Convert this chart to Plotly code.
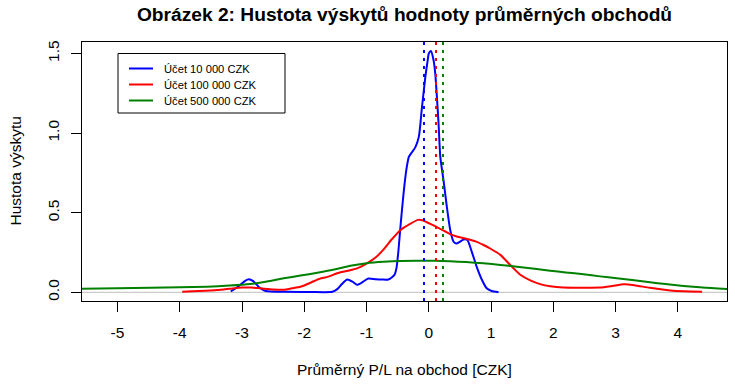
import plotly.graph_objects as go

# ---------------- data ----------------
series_names = ["Účet 10 000 CZK", "Účet 100 000 CZK", "Účet 500 000 CZK"]

x_10k = [-3.18, -3.05, -2.95, -2.89, -2.82, -2.72, -2.62, -2.3, -1.9, -1.55, -1.47, -1.40, -1.31,
         -1.22, -1.15, -1.06, -0.97, -0.85, -0.75, -0.65, -0.59, -0.55, -0.52, -0.49, -0.46, -0.43,
         -0.40, -0.36, -0.32, -0.27, -0.217, -0.16, -0.11, -0.056, -0.02, 0.0, 0.035, 0.077, 0.104,
         0.13, 0.157, 0.185, 0.238, 0.29, 0.345, 0.40, 0.45, 0.51, 0.56, 0.62, 0.69, 0.77, 0.855,
         0.93, 1.01, 1.12]
y_10k = [0.005, 0.04, 0.072, 0.082, 0.07, 0.03, 0.008, 0.003, 0.002, 0.003, 0.02, 0.05, 0.08,
         0.065, 0.047, 0.065, 0.087, 0.082, 0.08, 0.08, 0.095, 0.11, 0.15, 0.25, 0.39, 0.52,
         0.64, 0.77, 0.85, 0.88, 0.91, 0.976, 1.16, 1.35, 1.45, 1.50, 1.516, 1.457, 1.374,
         1.23, 1.06, 0.85, 0.70, 0.537, 0.39, 0.317, 0.307, 0.32, 0.332, 0.328, 0.255, 0.16, 0.077,
         0.025, 0.008, 0.001]

x_100k = [-3.96, -3.7, -3.4, -3.2, -3.0, -2.85, -2.70, -2.5, -2.33, -2.2, -2.06, -1.9, -1.79,
          -1.6, -1.47, -1.3, -1.15, -1.0, -0.85, -0.725, -0.6, -0.457, -0.3, -0.17, -0.1, -0.03,
          0.05, 0.13, 0.25, 0.345, 0.45, 0.61, 0.75, 0.88, 1.0, 1.15, 1.3, 1.47, 1.63, 1.8, 1.95,
          2.16, 2.5, 2.75, 2.95, 3.13, 3.3, 3.55, 3.88, 4.1, 4.39]
y_100k = [0.004, 0.008, 0.014, 0.022, 0.03, 0.03, 0.025, 0.018, 0.016, 0.025, 0.035, 0.06, 0.08,
          0.10, 0.12, 0.135, 0.15, 0.18, 0.22, 0.27, 0.33, 0.39, 0.43, 0.455, 0.452, 0.44,
          0.425, 0.41, 0.385, 0.365, 0.35, 0.335, 0.32, 0.297, 0.272, 0.235, 0.175, 0.11, 0.075,
          0.05, 0.038, 0.03, 0.029, 0.03, 0.04, 0.05, 0.045, 0.028, 0.012, 0.007, 0.004]

x_500k = [-5.6, -5.0, -4.47, -4.0, -3.56, -3.2, -2.87, -2.6, -2.33, -2.06, -1.79, -1.5, -1.26,
          -1.0, -0.725, -0.45, -0.19, 0.1, 0.345, 0.6, 0.88, 1.15, 1.416, 1.7, 1.95, 2.2, 2.485,
          2.75, 3.02, 3.3, 3.555, 3.8, 4.09, 4.4, 4.8]
y_500k = [0.022, 0.025, 0.029, 0.032, 0.035, 0.042, 0.052, 0.068, 0.088, 0.105, 0.123, 0.145,
          0.167, 0.183, 0.192, 0.197, 0.198, 0.198, 0.195, 0.19, 0.182, 0.172, 0.16, 0.148, 0.136,
          0.125, 0.113, 0.1, 0.088, 0.075, 0.063, 0.052, 0.04, 0.03, 0.021]

means = [-0.077, 0.116, 0.228]

x_ticks = [-5, -4, -3, -2, -1, 0, 1, 2, 3, 4]
x_tick_labels = ["-5", "-4", "-3", "-2", "-1", "0", "1", "2", "3", "4"]
y_ticks = [0.0, 0.5, 1.0, 1.5]
y_tick_labels = ["0.0", "0.5", "1.0", "1.5"]

title_text = "Obrázek 2: Hustota výskytů hodnoty průměrných obchodů"
x_title = "Průměrný P/L na obchod [CZK]"
y_title = "Hustota výskytu"

# ---------------- style ----------------
colors = ["#0000ff", "#ff0000", "#008000"]
W, H = 735, 388
ML, MR, MT, MB = 82, 8, 42, 87
PW, PH = W - ML - MR, H - MT - MB
FONT = "Liberation Sans, Arial, sans-serif"


def px_x(px):
    return (px - ML) / PW


def px_y(py):
    return (H - MB - py) / PH


fig = go.Figure()

xs = [x_10k, x_100k, x_500k]
ys = [y_10k, y_100k, y_500k]
for xv, yv, name, col in zip(xs, ys, series_names, colors):
    fig.add_trace(go.Scatter(x=xv, y=yv, mode="lines", name=name,
                             line=dict(color=col, width=2, shape="spline", smoothing=0.6),
                             showlegend=False, hoverinfo="skip"))

fig.update_layout(
    width=W, height=H,
    margin=dict(l=ML, r=MR, t=MT, b=MB, autoexpand=False),
    paper_bgcolor="white", plot_bgcolor="white",
    title=dict(text="<b>" + title_text + "</b>", x=0.5, xref="paper",
               y=(H - 14) / H, yref="container", xanchor="center", yanchor="middle",
               font=dict(family=FONT, size=19.2, color="black")),
    xaxis=dict(range=[-5.57, 4.79], tickmode="array", tickvals=x_ticks, ticktext=x_tick_labels,
               ticks="outside", ticklen=10, tickwidth=1, tickcolor="black",
               showline=True, linecolor="black", linewidth=1, mirror=True,
               showgrid=False, zeroline=False, ticklabelstandoff=7,
               tickfont=dict(family=FONT, size=15.5, color="black")),
    yaxis=dict(range=[-0.0546, 1.572], tickmode="array", tickvals=y_ticks, ticktext=y_tick_labels,
               ticks="outside", ticklen=10, tickwidth=1, tickcolor="black", tickangle=-90,
               showline=True, linecolor="black", linewidth=1, mirror=True,
               showgrid=False, zeroline=False, ticklabelstandoff=6,
               tickfont=dict(family=FONT, size=15.5, color="black")),
    showlegend=False,
)

# zero line
fig.add_hline(y=0, line=dict(color="#bebebe", width=1), layer="below")

# mean lines
for m, col in zip(means, colors):
    fig.add_vline(x=m, line=dict(color=col, width=2, dash="3px,5px"))

# manual legend (R style)
fig.add_shape(type="rect", xref="paper", yref="paper",
              x0=px_x(118), x1=px_x(285), y0=px_y(113), y1=px_y(53.5),
              line=dict(color="black", width=1), fillcolor="white", layer="above")
row_y = [68.5, 84.5, 100.5]
for name, col, ry in zip(series_names, colors, row_y):
    fig.add_shape(type="line", xref="paper", yref="paper",
                  x0=px_x(129), x1=px_x(153), y0=px_y(ry), y1=px_y(ry),
                  line=dict(color=col, width=2))
    fig.add_annotation(text=name, xref="paper", yref="paper", x=px_x(162), y=px_y(ry),
                       xanchor="left", yanchor="middle", showarrow=False,
                       font=dict(family=FONT, size=11.2, color="black"))

# axis titles
fig.add_annotation(text=x_title, xref="paper", yref="paper", x=0.5, y=0,
                   xanchor="center", yanchor="middle", yshift=-(369 - 301),
                   showarrow=False, font=dict(family=FONT, size=15.5, color="black"))
fig.add_annotation(text=y_title, xref="paper", yref="paper", x=0, y=0.5,
                   xanchor="center", yanchor="middle", xshift=-(ML - 15), textangle=-90,
                   showarrow=False, font=dict(family=FONT, size=15.5, color="black"))

fig.write_html("out.html", config={"displayModeBar": False, "staticPlot": True},
               post_script="document.body.style.margin='0';document.body.style.overflow='hidden';")
